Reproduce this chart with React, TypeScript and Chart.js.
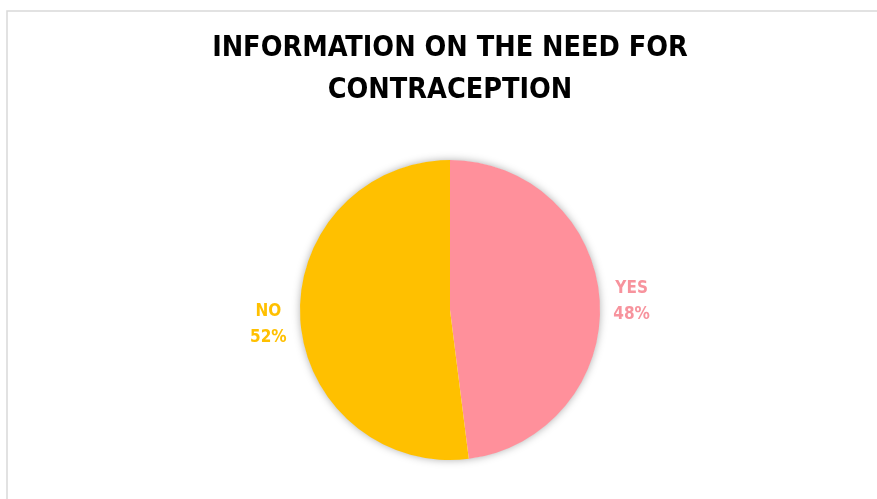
import React, { useEffect, useRef } from "react";
import { Chart, registerables } from "chart.js";

Chart.register(...registerables);

const titleLines = ["INFORMATION ON THE NEED FOR", "CONTRACEPTION"];
const categories = ["YES", "NO"];
const values = [48, 52];
const sliceColors = ["#FF909B", "#FFC000"];
const labelColors = ["#F7939D", "#FFC000"];

const FONT = '"Liberation Sans Narrow", "DejaVu Sans Condensed", "Liberation Sans", sans-serif';

export default function App() {
  const ref = useRef<HTMLCanvasElement | null>(null);

  useEffect(() => {
    const canvas = ref.current;
    if (!canvas) return;

    const decor = {
      id: "decor",
      beforeDraw(chart: any) {
        const ctx = chart.ctx;
        ctx.save();
        ctx.fillStyle = "#ffffff";
        ctx.fillRect(0, 0, chart.width, chart.height);
        ctx.strokeStyle = "#D9D9D9";
        ctx.lineWidth = 1.5;
        ctx.strokeRect(7, 11, chart.width + 10, chart.height + 10);
        // title
        ctx.fillStyle = "#000000";
        ctx.font = `bold 28.5px ${FONT}`;
        ctx.textAlign = "center";
        ctx.textBaseline = "middle";
        ctx.fillText(titleLines[0], 450, 49);
        ctx.fillText(titleLines[1], 450, 91);
        ctx.restore();
      },
      beforeDatasetsDraw(chart: any) {
        const meta = chart.getDatasetMeta(0);
        const arc = meta.data[0];
        if (!arc) return;
        const ctx = chart.ctx;
        ctx.save();
        ctx.shadowColor = "rgba(0,0,0,0.35)";
        ctx.shadowBlur = 8;
        ctx.fillStyle = "#ffffff";
        ctx.beginPath();
        ctx.arc(arc.x, arc.y, arc.outerRadius - 0.5, 0, Math.PI * 2);
        ctx.fill();
        ctx.restore();
      },
      afterDatasetsDraw(chart: any) {
        const meta = chart.getDatasetMeta(0);
        const ctx = chart.ctx;
        ctx.save();
        ctx.font = `bold 17px ${FONT}`;
        ctx.textAlign = "center";
        ctx.textBaseline = "middle";
        const total = values.reduce((a, b) => a + b, 0);
        meta.data.forEach((arc: any, i: number) => {
          const mid = (arc.startAngle + arc.endAngle) / 2;
          const r = arc.outerRadius + 32;
          const x = arc.x + Math.cos(mid) * r;
          const y = arc.y + Math.sin(mid) * r + 3;
          ctx.fillStyle = labelColors[i];
          const pct = Math.round((values[i] / total) * 100) + "%";
          ctx.fillText(categories[i], x, y - 13);
          ctx.fillText(pct, x, y + 13);
        });
        ctx.restore();
      },
    };

    const chart = new Chart(canvas, {
      type: "pie",
      data: {
        labels: categories,
        datasets: [
          {
            data: values,
            backgroundColor: sliceColors,
            borderWidth: 0,
            hoverOffset: 0,
          },
        ],
      },
      options: {
        animation: false,
        responsive: false,
        maintainAspectRatio: false,
        layout: { padding: { left: 300, right: 277, top: 160, bottom: 39 } },
        plugins: {
          legend: { display: false },
          title: { display: false },
          tooltip: { enabled: false },
        },
      },
      plugins: [decor],
    });

    return () => chart.destroy();
  }, []);

  return (
    <div style={{ position: "fixed", left: 0, top: 0, width: 877, height: 499, background: "#fff" }}>
      <canvas ref={ref} width={877} height={499} style={{ display: "block", width: 877, height: 499 }} />
    </div>
  );
}
